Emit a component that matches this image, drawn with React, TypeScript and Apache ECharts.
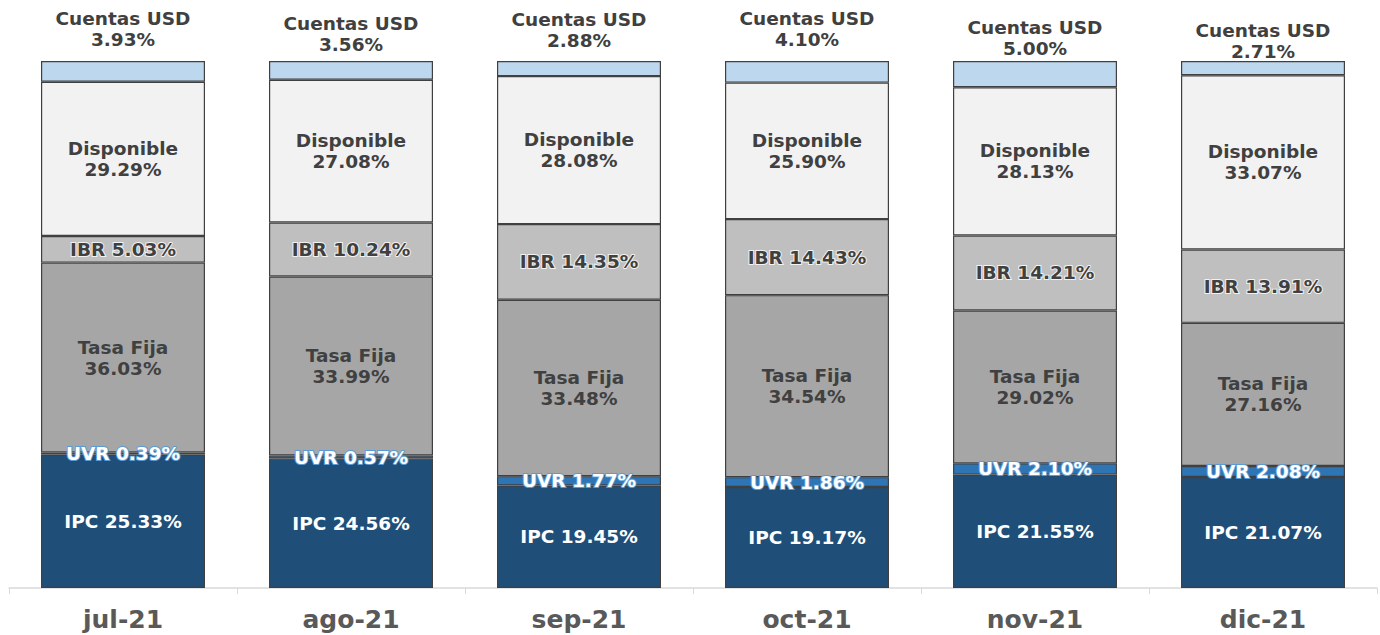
import React, { useEffect, useRef } from "react";
import * as echarts from "echarts";

const categories = ["jul-21", "ago-21", "sep-21", "oct-21", "nov-21", "dic-21"];
const ipc = [25.33, 24.56, 19.45, 19.17, 21.55, 21.07];
const uvr = [0.39, 0.57, 1.77, 1.86, 2.1, 2.08];
const tasaFija = [36.03, 33.99, 33.48, 34.54, 29.02, 27.16];
const ibr = [5.03, 10.24, 14.35, 14.43, 14.21, 13.91];
const disponible = [29.29, 27.08, 28.08, 25.9, 28.13, 33.07];
const cuentasUsd = [3.93, 3.56, 2.88, 4.1, 5.0, 2.71];
// distance of the "Cuentas USD" label above each bar (as placed in the reference)
const usdLabelDistance = [11, 6, 10, 11, 2, -1];

const FONT = "DejaVu Sans";

export default function App() {
  const ref = useRef<HTMLDivElement>(null);
  useEffect(() => {
    document.body.style.margin = "0";
    const chart = echarts.init(ref.current!, null, { renderer: "svg" });
    const border = { borderColor: "#404040", borderWidth: 1.2 };
    const baseLabel = {
      show: true,
      fontFamily: FONT,
      fontWeight: "bold" as const,
      fontSize: 18.5,
      lineHeight: 21,
    };
    const mk = (
      name: string,
      data: number[],
      color: string,
      fmt: (v: string) => string,
      labelExtra: any
    ) => ({
      name,
      type: "bar",
      stack: "total",
      barWidth: 164,
      data,
      itemStyle: { color, ...border },
      label: {
        ...baseLabel,
        position: "inside",
        formatter: (p: any) => fmt(Number(p.value).toFixed(2)),
        ...labelExtra,
      },
    });
    chart.setOption({
      animation: false,
      grid: { left: 9, right: 3, top: 61, bottom: 47 },
      xAxis: {
        type: "category",
        data: categories,
        axisLine: { lineStyle: { color: "#d9d9d9", width: 1.5 } },
        axisTick: { show: true, length: 6, lineStyle: { color: "#d9d9d9" } },
        axisLabel: {
          fontFamily: FONT,
          fontWeight: "bold",
          fontSize: 25,
          color: "#595959",
          margin: 19,
        },
      },
      yAxis: { type: "value", min: 0, max: 100, show: false, splitLine: { show: false } },
      series: [
        mk("IPC", ipc, "#1F4E79", (v) => `IPC ${v}%`, { color: "#ffffff" }),
        mk("UVR", uvr, "#2E75B6", (v) => `UVR ${v}%`, {
          color: "#ffffff",
          textBorderColor: "#5B9BD5",
          textBorderWidth: 2,
        }),
        mk("Tasa Fija", tasaFija, "#A6A6A6", (v) => `Tasa Fija\n${v}%`, { color: "#404040" }),
        mk("IBR", ibr, "#BFBFBF", (v) => `IBR ${v}%`, {
          color: "#404040",
          textBorderColor: "#f2f2f2",
          textBorderWidth: 2,
        }),
        mk("Disponible", disponible, "#F2F2F2", (v) => `Disponible\n${v}%`, { color: "#404040" }),
        {
          name: "Cuentas USD",
          type: "bar",
          stack: "total",
          barWidth: 164,
          data: cuentasUsd.map((v, i) => ({
            value: v,
            label: { distance: usdLabelDistance[i] },
          })),
          itemStyle: { color: "#BDD7EE", ...border },
          label: {
            ...baseLabel,
            position: "top",
            color: "#404040",
            formatter: (p: any) => `Cuentas USD\n${Number(p.value).toFixed(2)}%`,
          },
        },
      ],
    });
    return () => chart.dispose();
  }, []);
  return <div ref={ref} style={{ width: 1380, height: 635 }} />;
}
